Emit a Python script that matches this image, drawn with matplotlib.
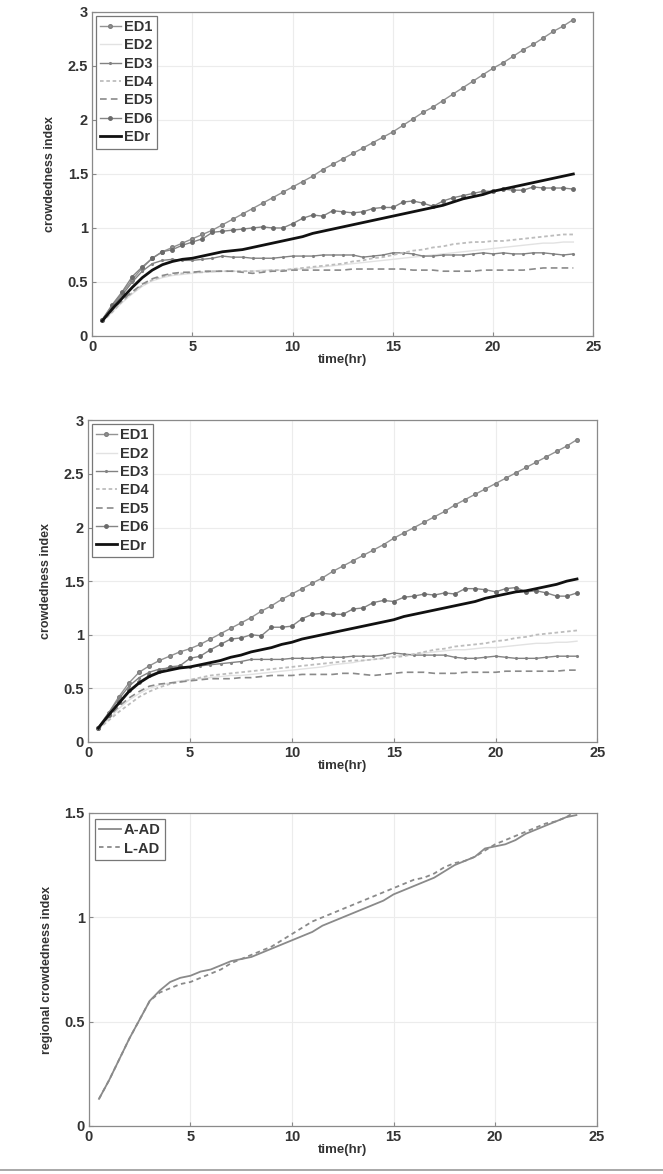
import numpy as np
import matplotlib
matplotlib.use("Agg")
from matplotlib import pyplot as plt
from matplotlib.lines import Line2D
from matplotlib.ticker import FormatStrFormatter

plt.rcParams['font.family'] = ['Liberation Sans', 'DejaVu Sans']
plt.rcParams['font.weight'] = 'bold'

# time grid (hr), half-hour steps
t = np.arange(0.5, 24.01, 0.5)

# ---- panel 1 ----
ed1_a = [0.15, 0.28, 0.40, 0.52, 0.63, 0.72, 0.78, 0.82,
         0.86, 0.90, 0.94, 0.98, 1.03, 1.08, 1.13, 1.18,
         1.23, 1.28, 1.33, 1.38, 1.43, 1.48, 1.54, 1.59,
         1.64, 1.69, 1.74, 1.79, 1.84, 1.89, 1.95, 2.01,
         2.07, 2.12, 2.18, 2.24, 2.30, 2.36, 2.42, 2.48,
         2.53, 2.59, 2.65, 2.70, 2.76, 2.82, 2.87, 2.93]
ed2_a = [0.13, 0.22, 0.31, 0.39, 0.46, 0.51, 0.54, 0.56,
         0.57, 0.58, 0.59, 0.59, 0.60, 0.60, 0.60, 0.60,
         0.61, 0.61, 0.61, 0.62, 0.62, 0.63, 0.64, 0.65,
         0.66, 0.67, 0.68, 0.69, 0.70, 0.71, 0.72, 0.73,
         0.74, 0.75, 0.76, 0.77, 0.78, 0.79, 0.80, 0.81,
         0.82, 0.83, 0.84, 0.85, 0.86, 0.86, 0.87, 0.87]
ed3_a = [0.15, 0.27, 0.38, 0.50, 0.60, 0.67, 0.70, 0.71,
         0.70, 0.70, 0.71, 0.72, 0.74, 0.73, 0.73, 0.72,
         0.72, 0.72, 0.73, 0.74, 0.74, 0.74, 0.75, 0.75,
         0.75, 0.75, 0.73, 0.74, 0.75, 0.77, 0.77, 0.76,
         0.74, 0.74, 0.75, 0.75, 0.75, 0.76, 0.77, 0.76,
         0.77, 0.76, 0.76, 0.77, 0.77, 0.76, 0.75, 0.76]
ed4_a = [0.13, 0.22, 0.32, 0.40, 0.47, 0.52, 0.55, 0.57,
         0.58, 0.59, 0.59, 0.60, 0.60, 0.60, 0.60, 0.60,
         0.60, 0.61, 0.61, 0.62, 0.63, 0.64, 0.65, 0.66,
         0.67, 0.69, 0.70, 0.72, 0.73, 0.75, 0.77, 0.79,
         0.80, 0.82, 0.83, 0.85, 0.86, 0.87, 0.87, 0.88,
         0.88, 0.89, 0.90, 0.91, 0.92, 0.93, 0.94, 0.94]
ed5_a = [0.14, 0.24, 0.33, 0.41, 0.48, 0.53, 0.56, 0.58,
         0.59, 0.59, 0.60, 0.60, 0.60, 0.60, 0.59, 0.58,
         0.59, 0.60, 0.60, 0.61, 0.61, 0.61, 0.61, 0.61,
         0.61, 0.62, 0.62, 0.62, 0.62, 0.62, 0.62, 0.61,
         0.61, 0.61, 0.60, 0.60, 0.60, 0.60, 0.61, 0.61,
         0.61, 0.61, 0.61, 0.62, 0.63, 0.63, 0.63, 0.63]
ed6_a = [0.15, 0.29, 0.41, 0.55, 0.64, 0.72, 0.78, 0.80,
         0.84, 0.87, 0.90, 0.96, 0.97, 0.98, 0.99, 1.00,
         1.01, 1.00, 1.00, 1.04, 1.09, 1.12, 1.11, 1.16,
         1.15, 1.14, 1.15, 1.18, 1.19, 1.19, 1.24, 1.25,
         1.23, 1.20, 1.25, 1.28, 1.30, 1.32, 1.34, 1.34,
         1.36, 1.35, 1.35, 1.38, 1.37, 1.37, 1.37, 1.36]
edr_a = [0.14, 0.25, 0.35, 0.45, 0.54, 0.61, 0.66, 0.69,
         0.71, 0.72, 0.74, 0.76, 0.78, 0.79, 0.80, 0.82,
         0.84, 0.86, 0.88, 0.90, 0.92, 0.95, 0.97, 0.99,
         1.01, 1.03, 1.05, 1.07, 1.09, 1.11, 1.13, 1.15,
         1.17, 1.19, 1.21, 1.24, 1.27, 1.29, 1.31, 1.34,
         1.36, 1.38, 1.40, 1.42, 1.44, 1.46, 1.48, 1.50]

# ---- panel 2 ----
ed1_b = [0.13, 0.27, 0.42, 0.55, 0.65, 0.71, 0.76, 0.80,
         0.84, 0.87, 0.91, 0.96, 1.01, 1.06, 1.11, 1.16,
         1.22, 1.27, 1.33, 1.38, 1.43, 1.48, 1.53, 1.59,
         1.64, 1.69, 1.74, 1.79, 1.84, 1.90, 1.95, 2.00,
         2.05, 2.10, 2.15, 2.21, 2.26, 2.31, 2.36, 2.41,
         2.46, 2.51, 2.56, 2.61, 2.66, 2.71, 2.76, 2.82]
ed2_b = [0.12, 0.21, 0.31, 0.39, 0.45, 0.50, 0.53, 0.55,
         0.57, 0.58, 0.59, 0.60, 0.61, 0.62, 0.62, 0.63,
         0.64, 0.65, 0.66, 0.67, 0.68, 0.69, 0.70, 0.72,
         0.73, 0.74, 0.76, 0.77, 0.78, 0.80, 0.81, 0.82,
         0.83, 0.84, 0.85, 0.86, 0.86, 0.87, 0.88, 0.88,
         0.89, 0.90, 0.91, 0.92, 0.92, 0.93, 0.93, 0.94]
ed3_b = [0.14, 0.27, 0.40, 0.52, 0.60, 0.65, 0.68, 0.69,
         0.70, 0.70, 0.71, 0.72, 0.73, 0.74, 0.75, 0.77,
         0.77, 0.77, 0.77, 0.78, 0.78, 0.78, 0.79, 0.79,
         0.79, 0.80, 0.80, 0.80, 0.81, 0.83, 0.82, 0.81,
         0.81, 0.81, 0.81, 0.79, 0.78, 0.78, 0.79, 0.80,
         0.79, 0.78, 0.78, 0.78, 0.79, 0.80, 0.80, 0.80]
ed4_b = [0.12, 0.20, 0.28, 0.35, 0.42, 0.47, 0.51, 0.54,
         0.56, 0.58, 0.60, 0.62, 0.63, 0.64, 0.65, 0.66,
         0.67, 0.68, 0.69, 0.70, 0.71, 0.72, 0.73, 0.74,
         0.75, 0.76, 0.76, 0.77, 0.78, 0.79, 0.80, 0.82,
         0.84, 0.86, 0.87, 0.89, 0.90, 0.91, 0.92, 0.94,
         0.95, 0.97, 0.98, 1.00, 1.01, 1.02, 1.03, 1.04]
ed5_b = [0.13, 0.23, 0.33, 0.41, 0.47, 0.52, 0.54, 0.55,
         0.56, 0.57, 0.58, 0.59, 0.59, 0.59, 0.60, 0.60,
         0.61, 0.62, 0.62, 0.62, 0.63, 0.63, 0.63, 0.63,
         0.64, 0.64, 0.63, 0.62, 0.63, 0.64, 0.65, 0.65,
         0.65, 0.64, 0.64, 0.64, 0.65, 0.65, 0.65, 0.65,
         0.66, 0.66, 0.66, 0.66, 0.66, 0.66, 0.67, 0.67]
ed6_b = [0.13, 0.25, 0.37, 0.48, 0.56, 0.62, 0.66, 0.70,
         0.71, 0.78, 0.80, 0.86, 0.91, 0.96, 0.97, 1.00,
         0.99, 1.07, 1.07, 1.08, 1.15, 1.19, 1.20, 1.19,
         1.19, 1.24, 1.25, 1.30, 1.32, 1.31, 1.35, 1.36,
         1.38, 1.37, 1.39, 1.38, 1.43, 1.43, 1.42, 1.40,
         1.43, 1.44, 1.40, 1.41, 1.39, 1.36, 1.36, 1.39]
edr_b = [0.13, 0.25, 0.36, 0.47, 0.55, 0.61, 0.65, 0.67,
         0.69, 0.70, 0.72, 0.74, 0.76, 0.79, 0.81, 0.84,
         0.86, 0.88, 0.91, 0.93, 0.96, 0.98, 1.00, 1.02,
         1.04, 1.06, 1.08, 1.10, 1.12, 1.14, 1.17, 1.19,
         1.21, 1.23, 1.25, 1.27, 1.29, 1.31, 1.34, 1.36,
         1.38, 1.40, 1.41, 1.43, 1.45, 1.47, 1.50, 1.52]

# ---- panel 3 ----
a_ad = [0.13, 0.22, 0.32, 0.42, 0.51, 0.60, 0.65, 0.69,
        0.71, 0.72, 0.74, 0.75, 0.77, 0.79, 0.80, 0.81,
        0.83, 0.85, 0.87, 0.89, 0.91, 0.93, 0.96, 0.98,
        1.00, 1.02, 1.04, 1.06, 1.08, 1.11, 1.13, 1.15,
        1.17, 1.19, 1.22, 1.25, 1.27, 1.29, 1.33, 1.34,
        1.35, 1.37, 1.40, 1.42, 1.44, 1.46, 1.48, 1.49]
l_ad = [0.13, 0.22, 0.32, 0.42, 0.51, 0.60, 0.64, 0.66,
        0.68, 0.69, 0.71, 0.73, 0.75, 0.78, 0.80, 0.82,
        0.84, 0.86, 0.89, 0.92, 0.95, 0.98, 1.00, 1.02,
        1.04, 1.06, 1.08, 1.10, 1.12, 1.14, 1.16, 1.18,
        1.19, 1.21, 1.24, 1.26, 1.27, 1.29, 1.32, 1.35,
        1.37, 1.39, 1.41, 1.43, 1.45, 1.46, 1.48, 1.51]

labels = ["ED1", "ED2", "ED3", "ED4", "ED5", "ED6", "EDr"]

# line styles for ED1..ED6, EDr
styles = [
    dict(color='#939393', lw=1.0, marker='o', ms=2.6, mfc='#939393', mec='#7e7e7e'),
    dict(color='#e2e2e2', lw=1.0),
    dict(color='#828282', lw=1.0, marker='.', ms=2.5),
    dict(color='#bdbdbd', lw=1.3, ls=(0, (2, 1.5))),
    dict(color='#8a8a8a', lw=1.2, ls=(0, (4, 2.5))),
    dict(color='#858585', lw=1.0, marker='o', ms=2.5, mfc='#6a6a6a', mec='#6a6a6a'),
    dict(color='#111111', lw=2.0),
]


def style_axes(ax, ymax, ylabel):
    ax.set_xlim(0, 25)
    ax.set_ylim(0, ymax)
    ax.set_xticks([0, 5, 10, 15, 20, 25])
    ax.set_yticks(np.arange(0, ymax + 0.01, 0.5))
    ax.yaxis.set_major_formatter(FormatStrFormatter('%g'))
    ax.grid(True, color='#ececec', lw=0.8)
    ax.tick_params(direction='in', length=3, color='#888888', labelsize=10.5,
                   labelcolor='#333333', pad=3)
    for lab in ax.get_xticklabels() + ax.get_yticklabels():
        lab.set_fontweight('bold')
    for s in ax.spines.values():
        s.set_color('#8a8a8a')
        s.set_linewidth(0.9)
    ax.set_xlabel("time(hr)", fontsize=9.5, fontweight='bold', color='#333333', labelpad=0)
    ax.set_ylabel(ylabel, fontsize=9, fontweight='bold', color='#333333', labelpad=8)


def ed_panel(ax, series):
    for ys, st, lab in zip(series, styles, labels):
        ax.plot(t, ys, label=lab, **st)
    style_axes(ax, 3, "crowdedness index")
    leg = ax.legend(loc='upper left', fontsize=10.5, handlelength=1.4, handletextpad=0.2,
                    labelspacing=0.3, borderpad=0.3, borderaxespad=0.25,
                    fancybox=False, framealpha=1, edgecolor='#777777')
    leg.get_frame().set_linewidth(0.9)
    for txt in leg.get_texts():
        txt.set_fontweight('bold')
        txt.set_color('#333333')


fig = plt.figure(figsize=(6.63, 11.74), dpi=100)

ax1 = fig.add_axes([0.139, 0.7138, 0.756, 0.276])
ed_panel(ax1, [ed1_a, ed2_a, ed3_a, ed4_a, ed5_a, ed6_a, edr_a])

ax2 = fig.add_axes([0.133, 0.368, 0.768, 0.274])
ed_panel(ax2, [ed1_b, ed2_b, ed3_b, ed4_b, ed5_b, ed6_b, edr_b])

ax3 = fig.add_axes([0.134, 0.0409, 0.766, 0.2666])
ax3.plot(t, a_ad, color='#8a8a8a', lw=1.3, label="A-AD")
ax3.plot(t, l_ad, color='#8a8a8a', lw=1.3, ls=(0, (2.5, 2)), label="L-AD")
style_axes(ax3, 1.5, "regional crowdedness index")
leg = ax3.legend(loc='upper left', fontsize=10.5, handlelength=1.5, handletextpad=0.2,
                 labelspacing=0.3, borderpad=0.3, borderaxespad=0.4,
                 fancybox=False, framealpha=1, edgecolor='#777777')
leg.get_frame().set_linewidth(0.9)
for txt in leg.get_texts():
    txt.set_fontweight('bold')
    txt.set_color('#333333')

# thin separator at the bottom of the page
fig.add_artist(Line2D([0, 1], [1 - 1170 / 1174] * 2, color='#9a9a9a', lw=1.2))

fig.savefig("out.png", dpi=100)
